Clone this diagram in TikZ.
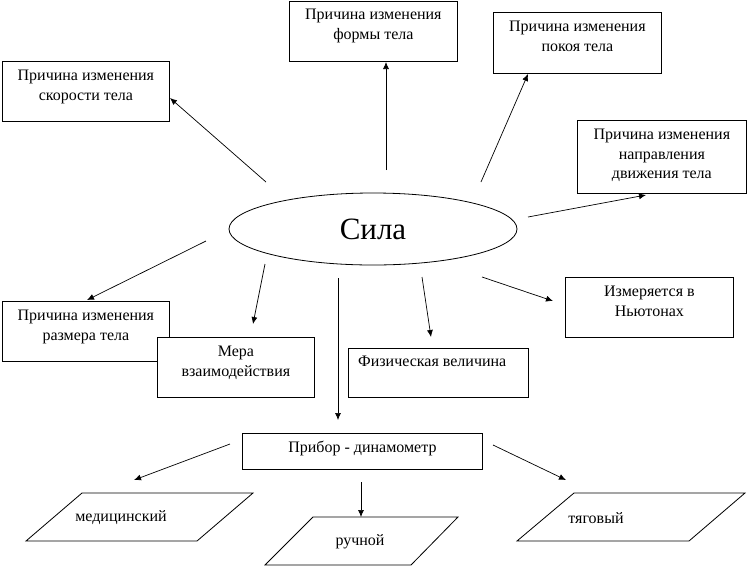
\documentclass[tikz,border=0pt]{standalone}
\usepackage{fontspec}
\setmainfont{Liberation Serif}
\usetikzlibrary{positioning,shapes.geometric,arrows.meta}
\newcommand{\fs}{\fontsize{16}{19.5}\selectfont}
\tikzset{
  box/.style={draw, fill=white, line width=0.8pt, inner sep=0pt, anchor=north west},
  txt/.style={inner sep=0pt, align=center, font=\fs},
  para/.style={draw, line width=0.8pt, line join=miter},
  arr/.style={-{Latex[length=7pt,width=6pt]}, line width=0.7pt}
}
\begin{document}
\begin{tikzpicture}[x=1pt,y=-1pt]
\useasboundingbox (0,0) rectangle (747,566);

% Centre
\node[ellipse, draw, line width=0.8pt, minimum width=288, minimum height=72, inner sep=0pt,
  font=\fontsize{31}{36}\selectfont] (sila) at (373,229) {Сила};

% Upper boxes
\node[box, minimum width=167, minimum height=60] (skor) at (2,61) {};
\node[txt, below=9pt of skor.north] (skorT) {Причина изменения\\скорости тела};
\node[box, minimum width=168, minimum height=60] (form) at (289,1) {};
\node[txt, below=8pt of form.north] (formT) {Причина изменения\\формы тела};
\node[box, minimum width=168, minimum height=61] (pokoj) at (493,12) {};
\node[txt, below=9pt of pokoj.north] (pokojT) {Причина изменения\\покоя тела};
\node[box, minimum width=169, minimum height=73] (napr) at (577,120) {};
\node[txt, below=9pt of napr.north] (naprT) {Причина изменения\\направления\\движения тела};

% Lower boxes
\node[box, minimum width=167, minimum height=60] (razm) at (2,301) {};
\node[txt, below=9pt of razm.north] (razmT) {Причина изменения\\размера тела};
\node[box, minimum width=157, minimum height=60] (mera) at (157,337) {};
\node[txt, below=9pt of mera.north] (meraT) {Мера\\взаимодействия};
\node[box, minimum width=180, minimum height=49] (fiz) at (348,348) {};
\node[txt, below right=8pt and 10pt of fiz.north west] (fizT) {Физическая величина};
\node[box, minimum width=168, minimum height=60] (newt) at (565,277) {};
\node[txt, below=9pt of newt.north] (newtT) {Измеряется в\\Ньютонах};
\node[box, minimum width=240, minimum height=36] (prib) at (242,433) {};
\node[txt, below=8pt of prib.north] (pribT) {Прибор - динамометр};

% Kinds of dynamometer
\draw[para] (82,493) -- (253,493) -- (197,541) -- (26,541) -- cycle;
\node[txt] (medT) at (121,518) {медицинский};
\draw[para] (313,517) -- (458,517) -- (411,565) -- (265,565) -- cycle;
\node[txt] (ruchT) at (360,542) {ручной};
\draw[para] (574,493) -- (745,493) -- (689,541) -- (517,541) -- cycle;
\node[txt] (tyagT) at (596,518) {тяговый};

% Arrow ends
\coordinate (s1) at (266,182); \coordinate (e1) at (170,98);
\coordinate (s2) at (386,170); \coordinate (e2) at (386,62);
\coordinate (s3) at (481,182); \coordinate (e3) at (528,74);
\coordinate (s4) at (528,217); \coordinate (e4) at (646,195);
\coordinate (s5) at (206,241); \coordinate (e5) at (87,300);
\coordinate (s6) at (265,264); \coordinate (e6) at (253,324);
\coordinate (s7) at (338,278); \coordinate (e7) at (338,420);
\coordinate (s8) at (422,277); \coordinate (e8) at (431,337);
\coordinate (s9) at (482,277); \coordinate (e9) at (553,301);
\coordinate (s10) at (230,444); \coordinate (e10) at (134,480);
\coordinate (s11) at (361,482); \coordinate (e11) at (361,517);
\coordinate (s12) at (493,445); \coordinate (e12) at (566,480);

\foreach \i in {1,...,12}
  \draw[arr] (s\i) -- (e\i);
\end{tikzpicture}
\end{document}
